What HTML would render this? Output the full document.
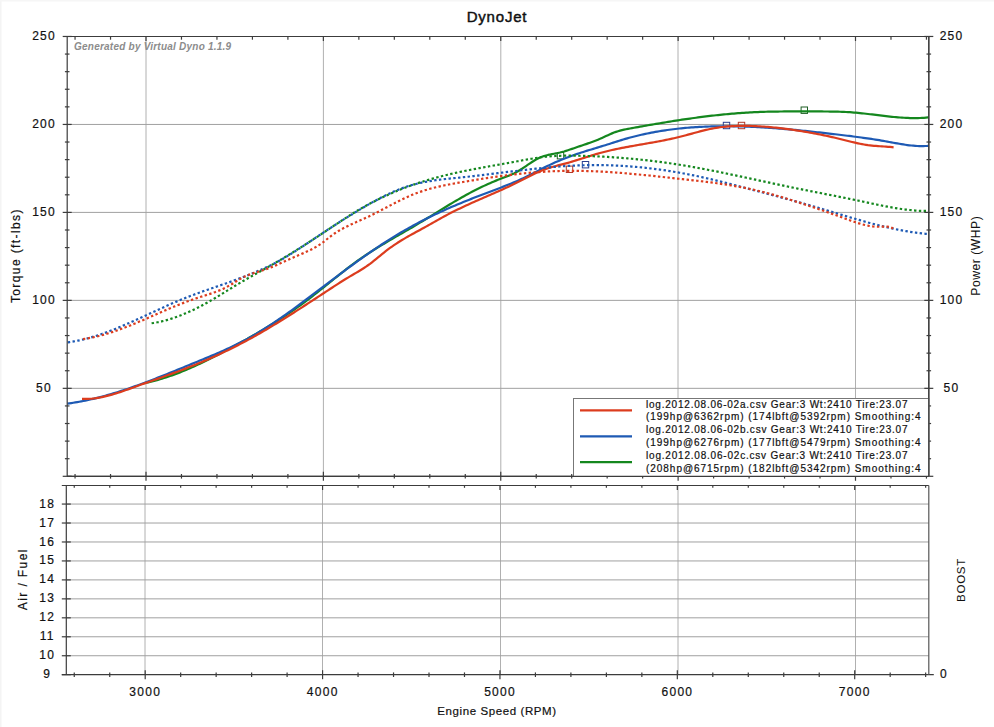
<!DOCTYPE html>
<html><head><meta charset="utf-8"><style>
html,body{margin:0;padding:0;background:#fff;width:994px;height:727px;overflow:hidden}
svg{display:block}
</style></head><body>
<svg width="994" height="727" viewBox="0 0 994 727">
<rect width="994" height="727" fill="#fff"/>
<rect x="0" y="0" width="1.5" height="727" fill="#f4f4f4"/>
<rect x="0" y="0" width="994" height="1.5" fill="#f6f6f6"/>
<line x1="146.00" y1="36.5" x2="146.00" y2="476.3" stroke="#b0b0b0" stroke-width="1"/>
<line x1="323.40" y1="36.5" x2="323.40" y2="476.3" stroke="#b0b0b0" stroke-width="1"/>
<line x1="500.80" y1="36.5" x2="500.80" y2="476.3" stroke="#b0b0b0" stroke-width="1"/>
<line x1="678.00" y1="36.5" x2="678.00" y2="476.3" stroke="#b0b0b0" stroke-width="1"/>
<line x1="855.50" y1="36.5" x2="855.50" y2="476.3" stroke="#b0b0b0" stroke-width="1"/>
<line x1="67.2" y1="388.34" x2="928.8" y2="388.34" stroke="#a0a0a0" stroke-width="1"/>
<line x1="67.2" y1="300.37" x2="928.8" y2="300.37" stroke="#a0a0a0" stroke-width="1"/>
<line x1="67.2" y1="212.40" x2="928.8" y2="212.40" stroke="#a0a0a0" stroke-width="1"/>
<line x1="67.2" y1="124.44" x2="928.8" y2="124.44" stroke="#a0a0a0" stroke-width="1"/>
<line x1="145.00" y1="485.5" x2="145.00" y2="674.7" stroke="#b0b0b0" stroke-width="1"/>
<line x1="322.50" y1="485.5" x2="322.50" y2="674.7" stroke="#b0b0b0" stroke-width="1"/>
<line x1="500.50" y1="485.5" x2="500.50" y2="674.7" stroke="#b0b0b0" stroke-width="1"/>
<line x1="678.00" y1="485.5" x2="678.00" y2="674.7" stroke="#b0b0b0" stroke-width="1"/>
<line x1="855.50" y1="485.5" x2="855.50" y2="674.7" stroke="#b0b0b0" stroke-width="1"/>
<line x1="66.3" y1="655.74" x2="928.8" y2="655.74" stroke="#a0a0a0" stroke-width="1"/>
<line x1="66.3" y1="636.78" x2="928.8" y2="636.78" stroke="#a0a0a0" stroke-width="1"/>
<line x1="66.3" y1="617.82" x2="928.8" y2="617.82" stroke="#a0a0a0" stroke-width="1"/>
<line x1="66.3" y1="598.86" x2="928.8" y2="598.86" stroke="#a0a0a0" stroke-width="1"/>
<line x1="66.3" y1="579.90" x2="928.8" y2="579.90" stroke="#a0a0a0" stroke-width="1"/>
<line x1="66.3" y1="560.94" x2="928.8" y2="560.94" stroke="#a0a0a0" stroke-width="1"/>
<line x1="66.3" y1="541.98" x2="928.8" y2="541.98" stroke="#a0a0a0" stroke-width="1"/>
<line x1="66.3" y1="523.02" x2="928.8" y2="523.02" stroke="#a0a0a0" stroke-width="1"/>
<line x1="66.3" y1="504.06" x2="928.8" y2="504.06" stroke="#a0a0a0" stroke-width="1"/>
<rect x="723.3" y="122.3" width="6.4" height="6.4" fill="none" stroke="#2a3f8f" stroke-width="1"/>
<rect x="738.3" y="122.3" width="6.4" height="6.4" fill="none" stroke="#b03a2a" stroke-width="1"/>
<rect x="801.1" y="107.0" width="6.4" height="6.4" fill="none" stroke="#1f5f25" stroke-width="1"/>
<rect x="557.3" y="152.5" width="6.4" height="6.4" fill="none" stroke="#1f5f25" stroke-width="1"/>
<rect x="582.3" y="161.5" width="6.4" height="6.4" fill="none" stroke="#2a3f8f" stroke-width="1"/>
<rect x="566.3" y="166.1" width="6.4" height="6.4" fill="none" stroke="#b03a2a" stroke-width="1"/>
<g fill="none" stroke-linejoin="round">
<path d="M146.00,382.73 L148.00,382.31 L150.00,381.86 L152.00,381.39 L154.00,380.89 L156.00,380.37 L158.00,379.82 L160.00,379.25 L162.00,378.66 L164.00,378.04 L166.00,377.41 L168.00,376.75 L170.00,376.06 L172.00,375.36 L174.00,374.64 L176.00,373.90 L178.00,373.14 L180.00,372.36 L182.00,371.57 L184.00,370.75 L186.00,369.92 L188.00,369.07 L190.00,368.21 L192.00,367.33 L194.00,366.44 L196.00,365.53 L198.00,364.60 L200.00,363.67 L202.00,362.72 L204.00,361.76 L206.00,360.79 L208.00,359.80 L210.00,358.81 L212.00,357.80 L214.00,356.79 L216.00,355.76 L218.00,354.73 L220.00,353.69 L222.00,352.64 L224.00,351.59 L226.00,350.52 L228.00,349.45 L230.00,348.38 L232.00,347.30 L234.00,346.22 L236.00,345.13 L238.00,344.03 L240.00,342.93 L242.00,341.83 L244.00,340.71 L246.00,339.59 L248.00,338.47 L250.00,337.33 L252.00,336.19 L254.00,335.04 L256.00,333.88 L258.00,332.72 L260.00,331.54 L262.00,330.35 L264.00,329.16 L266.00,327.95 L268.00,326.74 L270.00,325.51 L272.00,324.27 L274.00,323.02 L276.00,321.75 L278.00,320.48 L280.00,319.19 L282.00,317.89 L284.00,316.57 L286.00,315.25 L288.00,313.90 L290.00,312.55 L292.00,311.17 L294.00,309.79 L296.00,308.38 L298.00,306.96 L300.00,305.53 L302.00,304.07 L304.00,302.61 L306.00,301.12 L308.00,299.61 L310.00,298.09 L312.00,296.55 L314.00,295.00 L316.00,293.43 L318.00,291.85 L320.00,290.26 L322.00,288.66 L324.00,287.06 L326.00,285.45 L328.00,283.84 L330.00,282.22 L332.00,280.61 L334.00,279.00 L336.00,277.39 L338.00,275.79 L340.00,274.20 L342.00,272.62 L344.00,271.04 L346.00,269.48 L348.00,267.94 L350.00,266.41 L352.00,264.90 L354.00,263.41 L356.00,261.95 L358.00,260.50 L360.00,259.09 L362.00,257.69 L364.00,256.33 L366.00,254.98 L368.00,253.66 L370.00,252.35 L372.00,251.07 L374.00,249.80 L376.00,248.55 L378.00,247.31 L380.00,246.09 L382.00,244.88 L384.00,243.69 L386.00,242.50 L388.00,241.32 L390.00,240.15 L392.00,238.99 L394.00,237.83 L396.00,236.67 L398.00,235.52 L400.00,234.37 L402.00,233.22 L404.00,232.07 L406.00,230.92 L408.00,229.76 L410.00,228.60 L412.00,227.43 L414.00,226.26 L416.00,225.07 L418.00,223.88 L420.00,222.68 L422.00,221.47 L424.00,220.25 L426.00,219.02 L428.00,217.80 L430.00,216.57 L432.00,215.33 L434.00,214.10 L436.00,212.86 L438.00,211.63 L440.00,210.40 L442.00,209.17 L444.00,207.94 L446.00,206.72 L448.00,205.51 L450.00,204.30 L452.00,203.11 L454.00,201.92 L456.00,200.75 L458.00,199.58 L460.00,198.43 L462.00,197.29 L464.00,196.17 L466.00,195.06 L468.00,193.97 L470.00,192.90 L472.00,191.84 L474.00,190.80 L476.00,189.78 L478.00,188.77 L480.00,187.78 L482.00,186.82 L484.00,185.87 L486.00,184.94 L488.00,184.03 L490.00,183.15 L492.00,182.28 L494.00,181.44 L496.00,180.62 L498.00,179.83 L500.00,179.05 L502.00,178.30 L504.00,177.56 L506.00,176.82 L508.00,176.04 L510.00,175.23 L512.00,174.35 L514.00,173.39 L516.00,172.35 L518.00,171.24 L520.00,170.04 L522.00,168.77 L524.00,167.43 L526.00,166.07 L528.00,164.69 L530.00,163.32 L532.00,161.99 L534.00,160.72 L536.00,159.55 L538.00,158.48 L540.00,157.55 L542.00,156.74 L544.00,156.04 L546.00,155.45 L548.00,154.95 L550.00,154.52 L552.00,154.12 L554.00,153.74 L556.00,153.36 L558.00,152.96 L560.00,152.50 L562.00,151.99 L564.00,151.44 L566.00,150.84 L568.00,150.21 L570.00,149.56 L572.00,148.88 L574.00,148.20 L576.00,147.50 L578.00,146.80 L580.00,146.11 L582.00,145.44 L584.00,144.76 L586.00,144.09 L588.00,143.41 L590.00,142.72 L592.00,142.01 L594.00,141.27 L596.00,140.51 L598.00,139.70 L600.00,138.86 L602.00,137.96 L604.00,137.04 L606.00,136.10 L608.00,135.16 L610.00,134.25 L612.00,133.38 L614.00,132.58 L616.00,131.85 L618.00,131.21 L620.00,130.64 L622.00,130.14 L624.00,129.69 L626.00,129.28 L628.00,128.89 L630.00,128.52 L632.00,128.15 L634.00,127.79 L636.00,127.42 L638.00,127.06 L640.00,126.70 L642.00,126.34 L644.00,125.99 L646.00,125.63 L648.00,125.28 L650.00,124.93 L652.00,124.58 L654.00,124.24 L656.00,123.89 L658.00,123.55 L660.00,123.22 L662.00,122.88 L664.00,122.55 L666.00,122.22 L668.00,121.89 L670.00,121.57 L672.00,121.25 L674.00,120.94 L676.00,120.63 L678.00,120.32 L680.00,120.01 L682.00,119.71 L684.00,119.41 L686.00,119.12 L688.00,118.83 L690.00,118.55 L692.00,118.26 L694.00,117.99 L696.00,117.72 L698.00,117.45 L700.00,117.19 L702.00,116.93 L704.00,116.68 L706.00,116.43 L708.00,116.19 L710.00,115.95 L712.00,115.71 L714.00,115.49 L716.00,115.27 L718.00,115.05 L720.00,114.84 L722.00,114.63 L724.00,114.44 L726.00,114.24 L728.00,114.06 L730.00,113.87 L732.00,113.70 L734.00,113.53 L736.00,113.37 L738.00,113.21 L740.00,113.07 L742.00,112.92 L744.00,112.79 L746.00,112.66 L748.00,112.54 L750.00,112.42 L752.00,112.32 L754.00,112.22 L756.00,112.13 L758.00,112.04 L760.00,111.96 L762.00,111.89 L764.00,111.83 L766.00,111.77 L768.00,111.71 L770.00,111.67 L772.00,111.62 L774.00,111.59 L776.00,111.55 L778.00,111.53 L780.00,111.50 L782.00,111.48 L784.00,111.46 L786.00,111.45 L788.00,111.44 L790.00,111.43 L792.00,111.42 L794.00,111.42 L796.00,111.42 L798.00,111.41 L800.00,111.41 L802.00,111.41 L804.00,111.42 L806.00,111.42 L808.00,111.42 L810.00,111.42 L812.00,111.43 L814.00,111.43 L816.00,111.44 L818.00,111.44 L820.00,111.45 L822.00,111.47 L824.00,111.48 L826.00,111.50 L828.00,111.52 L830.00,111.54 L832.00,111.57 L834.00,111.60 L836.00,111.64 L838.00,111.68 L840.00,111.74 L842.00,111.80 L844.00,111.88 L846.00,111.98 L848.00,112.09 L850.00,112.22 L852.00,112.37 L854.00,112.53 L856.00,112.70 L858.00,112.89 L860.00,113.09 L862.00,113.30 L864.00,113.52 L866.00,113.75 L868.00,113.98 L870.00,114.22 L872.00,114.46 L874.00,114.70 L876.00,114.95 L878.00,115.19 L880.00,115.44 L882.00,115.68 L884.00,115.91 L886.00,116.14 L888.00,116.37 L890.00,116.59 L892.00,116.79 L894.00,116.99 L896.00,117.18 L898.00,117.35 L900.00,117.50 L902.00,117.65 L904.00,117.77 L906.00,117.88 L908.00,117.97 L910.00,118.03 L912.00,118.08 L914.00,118.10 L916.00,118.09 L918.00,118.06 L920.00,118.00 L922.00,117.92 L924.00,117.80 L926.00,117.65 L928.00,117.47 L928.80,117.39" stroke="#14871e" stroke-width="2.2" stroke-linecap="butt"/>
<path d="M67.30,403.61 L69.30,403.35 L71.30,403.06 L73.30,402.76 L75.30,402.44 L77.30,402.11 L79.30,401.75 L81.30,401.38 L83.30,400.99 L85.30,400.59 L87.30,400.17 L89.30,399.74 L91.30,399.29 L93.30,398.82 L95.30,398.34 L97.30,397.85 L99.30,397.34 L101.30,396.82 L103.30,396.28 L105.30,395.73 L107.30,395.17 L109.30,394.60 L111.30,394.01 L113.30,393.42 L115.30,392.81 L117.30,392.19 L119.30,391.56 L121.30,390.91 L123.30,390.26 L125.30,389.60 L127.30,388.93 L129.30,388.24 L131.30,387.55 L133.30,386.85 L135.30,386.15 L137.30,385.43 L139.30,384.71 L141.30,383.97 L143.30,383.23 L145.30,382.49 L147.30,381.74 L149.30,380.98 L151.30,380.21 L153.30,379.44 L155.30,378.67 L157.30,377.88 L159.30,377.10 L161.30,376.31 L163.30,375.51 L165.30,374.72 L167.30,373.91 L169.30,373.11 L171.30,372.30 L173.30,371.49 L175.30,370.68 L177.30,369.86 L179.30,369.04 L181.30,368.23 L183.30,367.41 L185.30,366.59 L187.30,365.77 L189.30,364.95 L191.30,364.12 L193.30,363.30 L195.30,362.48 L197.30,361.67 L199.30,360.85 L201.30,360.02 L203.30,359.20 L205.30,358.37 L207.30,357.54 L209.30,356.71 L211.30,355.87 L213.30,355.02 L215.30,354.17 L217.30,353.31 L219.30,352.44 L221.30,351.56 L223.30,350.67 L225.30,349.76 L227.30,348.85 L229.30,347.92 L231.30,346.99 L233.30,346.03 L235.30,345.06 L237.30,344.08 L239.30,343.07 L241.30,342.05 L243.30,341.02 L245.30,339.96 L247.30,338.88 L249.30,337.78 L251.30,336.66 L253.30,335.52 L255.30,334.36 L257.30,333.17 L259.30,331.97 L261.30,330.75 L263.30,329.51 L265.30,328.25 L267.30,326.97 L269.30,325.68 L271.30,324.37 L273.30,323.05 L275.30,321.71 L277.30,320.35 L279.30,318.98 L281.30,317.60 L283.30,316.21 L285.30,314.81 L287.30,313.39 L289.30,311.96 L291.30,310.53 L293.30,309.08 L295.30,307.63 L297.30,306.16 L299.30,304.69 L301.30,303.21 L303.30,301.73 L305.30,300.24 L307.30,298.75 L309.30,297.25 L311.30,295.74 L313.30,294.24 L315.30,292.73 L317.30,291.21 L319.30,289.70 L321.30,288.19 L323.30,286.67 L325.30,285.16 L327.30,283.65 L329.30,282.14 L331.30,280.63 L333.30,279.12 L335.30,277.62 L337.30,276.12 L339.30,274.62 L341.30,273.13 L343.30,271.64 L345.30,270.16 L347.30,268.68 L349.30,267.21 L351.30,265.74 L353.30,264.29 L355.30,262.83 L357.30,261.39 L359.30,259.95 L361.30,258.53 L363.30,257.11 L365.30,255.70 L367.30,254.29 L369.30,252.90 L371.30,251.52 L373.30,250.15 L375.30,248.79 L377.30,247.44 L379.30,246.11 L381.30,244.78 L383.30,243.47 L385.30,242.17 L387.30,240.89 L389.30,239.61 L391.30,238.36 L393.30,237.11 L395.30,235.88 L397.30,234.67 L399.30,233.47 L401.30,232.29 L403.30,231.12 L405.30,229.97 L407.30,228.84 L409.30,227.71 L411.30,226.60 L413.30,225.51 L415.30,224.43 L417.30,223.36 L419.30,222.31 L421.30,221.27 L423.30,220.24 L425.30,219.23 L427.30,218.23 L429.30,217.24 L431.30,216.26 L433.30,215.29 L435.30,214.34 L437.30,213.40 L439.30,212.46 L441.30,211.54 L443.30,210.63 L445.30,209.74 L447.30,208.85 L449.30,207.97 L451.30,207.10 L453.30,206.24 L455.30,205.39 L457.30,204.55 L459.30,203.72 L461.30,202.90 L463.30,202.08 L465.30,201.27 L467.30,200.47 L469.30,199.67 L471.30,198.89 L473.30,198.10 L475.30,197.32 L477.30,196.55 L479.30,195.78 L481.30,195.01 L483.30,194.25 L485.30,193.49 L487.30,192.73 L489.30,191.97 L491.30,191.21 L493.30,190.46 L495.30,189.70 L497.30,188.94 L499.30,188.18 L501.30,187.41 L503.30,186.63 L505.30,185.85 L507.30,185.05 L509.30,184.25 L511.30,183.43 L513.30,182.60 L515.30,181.76 L517.30,180.90 L519.30,180.02 L521.30,179.12 L523.30,178.21 L525.30,177.27 L527.30,176.31 L529.30,175.32 L531.30,174.31 L533.30,173.28 L535.30,172.25 L537.30,171.20 L539.30,170.16 L541.30,169.12 L543.30,168.09 L545.30,167.07 L547.30,166.08 L549.30,165.12 L551.30,164.18 L553.30,163.26 L555.30,162.37 L557.30,161.50 L559.30,160.65 L561.30,159.83 L563.30,159.02 L565.30,158.24 L567.30,157.47 L569.30,156.72 L571.30,155.99 L573.30,155.28 L575.30,154.58 L577.30,153.90 L579.30,153.23 L581.30,152.57 L583.30,151.93 L585.30,151.29 L587.30,150.67 L589.30,150.05 L591.30,149.43 L593.30,148.83 L595.30,148.22 L597.30,147.62 L599.30,147.01 L601.30,146.41 L603.30,145.80 L605.30,145.18 L607.30,144.56 L609.30,143.93 L611.30,143.29 L613.30,142.65 L615.30,142.00 L617.30,141.36 L619.30,140.73 L621.30,140.11 L623.30,139.50 L625.30,138.92 L627.30,138.35 L629.30,137.79 L631.30,137.25 L633.30,136.73 L635.30,136.22 L637.30,135.73 L639.30,135.25 L641.30,134.78 L643.30,134.33 L645.30,133.90 L647.30,133.48 L649.30,133.07 L651.30,132.68 L653.30,132.30 L655.30,131.94 L657.30,131.58 L659.30,131.24 L661.30,130.92 L663.30,130.60 L665.30,130.30 L667.30,130.01 L669.30,129.74 L671.30,129.47 L673.30,129.22 L675.30,128.98 L677.30,128.75 L679.30,128.53 L681.30,128.33 L683.30,128.13 L685.30,127.95 L687.30,127.77 L689.30,127.61 L691.30,127.45 L693.30,127.31 L695.30,127.17 L697.30,127.05 L699.30,126.93 L701.30,126.83 L703.30,126.73 L705.30,126.65 L707.30,126.57 L709.30,126.50 L711.30,126.43 L713.30,126.38 L715.30,126.34 L717.30,126.30 L719.30,126.27 L721.30,126.25 L723.30,126.24 L725.30,126.23 L727.30,126.23 L729.30,126.24 L731.30,126.26 L733.30,126.28 L735.30,126.31 L737.30,126.35 L739.30,126.40 L741.30,126.45 L743.30,126.51 L745.30,126.57 L747.30,126.64 L749.30,126.72 L751.30,126.80 L753.30,126.89 L755.30,126.99 L757.30,127.09 L759.30,127.19 L761.30,127.31 L763.30,127.42 L765.30,127.55 L767.30,127.67 L769.30,127.81 L771.30,127.95 L773.30,128.09 L775.30,128.24 L777.30,128.39 L779.30,128.55 L781.30,128.71 L783.30,128.87 L785.30,129.04 L787.30,129.22 L789.30,129.39 L791.30,129.57 L793.30,129.76 L795.30,129.95 L797.30,130.14 L799.30,130.33 L801.30,130.53 L803.30,130.73 L805.30,130.94 L807.30,131.15 L809.30,131.36 L811.30,131.57 L813.30,131.78 L815.30,132.00 L817.30,132.22 L819.30,132.44 L821.30,132.67 L823.30,132.89 L825.30,133.12 L827.30,133.35 L829.30,133.58 L831.30,133.81 L833.30,134.04 L835.30,134.28 L837.30,134.51 L839.30,134.75 L841.30,134.99 L843.30,135.23 L845.30,135.47 L847.30,135.72 L849.30,135.96 L851.30,136.21 L853.30,136.47 L855.30,136.72 L857.30,136.98 L859.30,137.25 L861.30,137.52 L863.30,137.80 L865.30,138.08 L867.30,138.36 L869.30,138.65 L871.30,138.95 L873.30,139.26 L875.30,139.57 L877.30,139.89 L879.30,140.21 L881.30,140.55 L883.30,140.89 L885.30,141.24 L887.30,141.60 L889.30,141.97 L891.30,142.34 L893.30,142.71 L895.30,143.08 L897.30,143.44 L899.30,143.79 L901.30,144.13 L903.30,144.46 L905.30,144.76 L907.30,145.05 L909.30,145.30 L911.30,145.53 L913.30,145.72 L915.30,145.88 L917.30,146.00 L919.30,146.07 L921.30,146.10 L923.30,146.08 L925.30,146.00 L927.30,145.87 L928.80,145.73" stroke="#1e5ab4" stroke-width="2.2" stroke-linecap="butt"/>
<path d="M82.00,398.84 L84.00,398.91 L86.00,398.92 L88.00,398.87 L90.00,398.77 L92.00,398.61 L94.00,398.40 L96.00,398.14 L98.00,397.83 L100.00,397.48 L102.00,397.09 L104.00,396.66 L106.00,396.19 L108.00,395.69 L110.00,395.16 L112.00,394.60 L114.00,394.01 L116.00,393.40 L118.00,392.77 L120.00,392.11 L122.00,391.44 L124.00,390.76 L126.00,390.06 L128.00,389.35 L130.00,388.64 L132.00,387.92 L134.00,387.20 L136.00,386.48 L138.00,385.76 L140.00,385.04 L142.00,384.33 L144.00,383.62 L146.00,382.91 L148.00,382.20 L150.00,381.49 L152.00,380.78 L154.00,380.08 L156.00,379.37 L158.00,378.66 L160.00,377.95 L162.00,377.23 L164.00,376.52 L166.00,375.80 L168.00,375.08 L170.00,374.36 L172.00,373.63 L174.00,372.89 L176.00,372.16 L178.00,371.41 L180.00,370.67 L182.00,369.91 L184.00,369.15 L186.00,368.38 L188.00,367.60 L190.00,366.82 L192.00,366.03 L194.00,365.23 L196.00,364.42 L198.00,363.60 L200.00,362.77 L202.00,361.93 L204.00,361.09 L206.00,360.23 L208.00,359.37 L210.00,358.49 L212.00,357.60 L214.00,356.71 L216.00,355.80 L218.00,354.89 L220.00,353.96 L222.00,353.03 L224.00,352.08 L226.00,351.12 L228.00,350.16 L230.00,349.18 L232.00,348.19 L234.00,347.19 L236.00,346.18 L238.00,345.16 L240.00,344.13 L242.00,343.08 L244.00,342.03 L246.00,340.96 L248.00,339.89 L250.00,338.80 L252.00,337.70 L254.00,336.59 L256.00,335.46 L258.00,334.33 L260.00,333.19 L262.00,332.03 L264.00,330.87 L266.00,329.70 L268.00,328.51 L270.00,327.32 L272.00,326.12 L274.00,324.92 L276.00,323.70 L278.00,322.48 L280.00,321.25 L282.00,320.01 L284.00,318.77 L286.00,317.52 L288.00,316.26 L290.00,315.00 L292.00,313.73 L294.00,312.46 L296.00,311.18 L298.00,309.90 L300.00,308.62 L302.00,307.33 L304.00,306.03 L306.00,304.74 L308.00,303.44 L310.00,302.13 L312.00,300.83 L314.00,299.52 L316.00,298.21 L318.00,296.91 L320.00,295.59 L322.00,294.28 L324.00,292.97 L326.00,291.66 L328.00,290.35 L330.00,289.04 L332.00,287.72 L334.00,286.42 L336.00,285.12 L338.00,283.82 L340.00,282.54 L342.00,281.27 L344.00,280.02 L346.00,278.78 L348.00,277.57 L350.00,276.38 L352.00,275.20 L354.00,274.04 L356.00,272.87 L358.00,271.69 L360.00,270.49 L362.00,269.26 L364.00,267.98 L366.00,266.65 L368.00,265.25 L370.00,263.79 L372.00,262.26 L374.00,260.69 L376.00,259.08 L378.00,257.44 L380.00,255.80 L382.00,254.17 L384.00,252.56 L386.00,250.98 L388.00,249.44 L390.00,247.96 L392.00,246.53 L394.00,245.15 L396.00,243.81 L398.00,242.52 L400.00,241.26 L402.00,240.03 L404.00,238.84 L406.00,237.67 L408.00,236.52 L410.00,235.39 L412.00,234.28 L414.00,233.18 L416.00,232.09 L418.00,231.00 L420.00,229.91 L422.00,228.82 L424.00,227.73 L426.00,226.62 L428.00,225.51 L430.00,224.38 L432.00,223.25 L434.00,222.11 L436.00,220.98 L438.00,219.85 L440.00,218.73 L442.00,217.62 L444.00,216.52 L446.00,215.45 L448.00,214.39 L450.00,213.35 L452.00,212.33 L454.00,211.32 L456.00,210.33 L458.00,209.36 L460.00,208.40 L462.00,207.45 L464.00,206.52 L466.00,205.59 L468.00,204.67 L470.00,203.77 L472.00,202.87 L474.00,201.98 L476.00,201.09 L478.00,200.21 L480.00,199.33 L482.00,198.46 L484.00,197.58 L486.00,196.71 L488.00,195.84 L490.00,194.97 L492.00,194.09 L494.00,193.21 L496.00,192.33 L498.00,191.45 L500.00,190.55 L502.00,189.65 L504.00,188.74 L506.00,187.83 L508.00,186.90 L510.00,185.96 L512.00,185.01 L514.00,184.05 L516.00,183.08 L518.00,182.08 L520.00,181.08 L522.00,180.06 L524.00,179.05 L526.00,178.03 L528.00,177.01 L530.00,176.01 L532.00,175.02 L534.00,174.06 L536.00,173.11 L538.00,172.20 L540.00,171.32 L542.00,170.49 L544.00,169.69 L546.00,168.95 L548.00,168.26 L550.00,167.62 L552.00,167.03 L554.00,166.48 L556.00,165.94 L558.00,165.43 L560.00,164.93 L562.00,164.43 L564.00,163.92 L566.00,163.39 L568.00,162.83 L570.00,162.26 L572.00,161.66 L574.00,161.05 L576.00,160.42 L578.00,159.79 L580.00,159.15 L582.00,158.51 L584.00,157.87 L586.00,157.24 L588.00,156.61 L590.00,155.98 L592.00,155.37 L594.00,154.76 L596.00,154.17 L598.00,153.60 L600.00,153.04 L602.00,152.50 L604.00,151.98 L606.00,151.47 L608.00,150.98 L610.00,150.51 L612.00,150.05 L614.00,149.60 L616.00,149.17 L618.00,148.75 L620.00,148.34 L622.00,147.94 L624.00,147.55 L626.00,147.17 L628.00,146.80 L630.00,146.43 L632.00,146.07 L634.00,145.71 L636.00,145.36 L638.00,145.01 L640.00,144.66 L642.00,144.31 L644.00,143.97 L646.00,143.62 L648.00,143.27 L650.00,142.92 L652.00,142.57 L654.00,142.21 L656.00,141.85 L658.00,141.48 L660.00,141.10 L662.00,140.72 L664.00,140.32 L666.00,139.92 L668.00,139.51 L670.00,139.09 L672.00,138.65 L674.00,138.20 L676.00,137.74 L678.00,137.26 L680.00,136.77 L682.00,136.26 L684.00,135.74 L686.00,135.21 L688.00,134.66 L690.00,134.12 L692.00,133.57 L694.00,133.02 L696.00,132.48 L698.00,131.94 L700.00,131.41 L702.00,130.89 L704.00,130.39 L706.00,129.91 L708.00,129.45 L710.00,129.01 L712.00,128.60 L714.00,128.21 L716.00,127.86 L718.00,127.55 L720.00,127.27 L722.00,127.02 L724.00,126.80 L726.00,126.61 L728.00,126.45 L730.00,126.31 L732.00,126.19 L734.00,126.10 L736.00,126.02 L738.00,125.96 L740.00,125.92 L742.00,125.89 L744.00,125.88 L746.00,125.89 L748.00,125.91 L750.00,125.95 L752.00,126.01 L754.00,126.07 L756.00,126.16 L758.00,126.25 L760.00,126.36 L762.00,126.49 L764.00,126.62 L766.00,126.77 L768.00,126.93 L770.00,127.11 L772.00,127.29 L774.00,127.49 L776.00,127.69 L778.00,127.91 L780.00,128.14 L782.00,128.38 L784.00,128.62 L786.00,128.88 L788.00,129.15 L790.00,129.42 L792.00,129.70 L794.00,129.99 L796.00,130.29 L798.00,130.60 L800.00,130.91 L802.00,131.23 L804.00,131.56 L806.00,131.90 L808.00,132.25 L810.00,132.60 L812.00,132.97 L814.00,133.34 L816.00,133.72 L818.00,134.11 L820.00,134.51 L822.00,134.91 L824.00,135.33 L826.00,135.75 L828.00,136.18 L830.00,136.63 L832.00,137.08 L834.00,137.54 L836.00,138.00 L838.00,138.48 L840.00,138.97 L842.00,139.47 L844.00,139.97 L846.00,140.47 L848.00,140.97 L850.00,141.47 L852.00,141.96 L854.00,142.43 L856.00,142.90 L858.00,143.34 L860.00,143.76 L862.00,144.16 L864.00,144.52 L866.00,144.86 L868.00,145.16 L870.00,145.41 L872.00,145.63 L874.00,145.82 L876.00,145.97 L878.00,146.11 L880.00,146.24 L882.00,146.36 L884.00,146.48 L886.00,146.62 L888.00,146.78 L890.00,146.96 L892.00,147.18 L893.60,147.38" stroke="#dc3c1e" stroke-width="2.2" stroke-linecap="butt"/>
<path d="M151.60,323.28 L153.60,322.99 L155.60,322.66 L157.60,322.29 L159.60,321.88 L161.60,321.43 L163.60,320.95 L165.60,320.42 L167.60,319.86 L169.60,319.27 L171.60,318.64 L173.60,317.98 L175.60,317.29 L177.60,316.56 L179.60,315.80 L181.60,315.02 L183.60,314.20 L185.60,313.36 L187.60,312.48 L189.60,311.58 L191.60,310.66 L193.60,309.71 L195.60,308.73 L197.60,307.73 L199.60,306.71 L201.60,305.66 L203.60,304.59 L205.60,303.50 L207.60,302.40 L209.60,301.27 L211.60,300.12 L213.60,298.96 L215.60,297.78 L217.60,296.58 L219.60,295.37 L221.60,294.14 L223.60,292.91 L225.60,291.67 L227.60,290.43 L229.60,289.19 L231.60,287.96 L233.60,286.73 L235.60,285.51 L237.60,284.30 L239.60,283.10 L241.60,281.92 L243.60,280.75 L245.60,279.59 L247.60,278.45 L249.60,277.31 L251.60,276.18 L253.60,275.05 L255.60,273.93 L257.60,272.81 L259.60,271.69 L261.60,270.58 L263.60,269.46 L265.60,268.35 L267.60,267.23 L269.60,266.10 L271.60,264.97 L273.60,263.84 L275.60,262.69 L277.60,261.54 L279.60,260.37 L281.60,259.20 L283.60,258.01 L285.60,256.82 L287.60,255.61 L289.60,254.39 L291.60,253.17 L293.60,251.93 L295.60,250.69 L297.60,249.44 L299.60,248.18 L301.60,246.92 L303.60,245.64 L305.60,244.36 L307.60,243.08 L309.60,241.78 L311.60,240.48 L313.60,239.18 L315.60,237.87 L317.60,236.56 L319.60,235.24 L321.60,233.92 L323.60,232.60 L325.60,231.27 L327.60,229.94 L329.60,228.61 L331.60,227.28 L333.60,225.95 L335.60,224.62 L337.60,223.30 L339.60,221.98 L341.60,220.66 L343.60,219.36 L345.60,218.06 L347.60,216.77 L349.60,215.50 L351.60,214.24 L353.60,212.99 L355.60,211.77 L357.60,210.56 L359.60,209.38 L361.60,208.22 L363.60,207.07 L365.60,205.95 L367.60,204.85 L369.60,203.77 L371.60,202.71 L373.60,201.67 L375.60,200.65 L377.60,199.65 L379.60,198.66 L381.60,197.70 L383.60,196.75 L385.60,195.83 L387.60,194.92 L389.60,194.02 L391.60,193.15 L393.60,192.29 L395.60,191.45 L397.60,190.63 L399.60,189.82 L401.60,189.03 L403.60,188.25 L405.60,187.49 L407.60,186.75 L409.60,186.02 L411.60,185.30 L413.60,184.60 L415.60,183.92 L417.60,183.25 L419.60,182.59 L421.60,181.95 L423.60,181.32 L425.60,180.70 L427.60,180.10 L429.60,179.51 L431.60,178.93 L433.60,178.36 L435.60,177.81 L437.60,177.27 L439.60,176.74 L441.60,176.22 L443.60,175.71 L445.60,175.21 L447.60,174.72 L449.60,174.25 L451.60,173.78 L453.60,173.32 L455.60,172.87 L457.60,172.43 L459.60,172.00 L461.60,171.58 L463.60,171.17 L465.60,170.76 L467.60,170.36 L469.60,169.96 L471.60,169.57 L473.60,169.19 L475.60,168.81 L477.60,168.43 L479.60,168.06 L481.60,167.69 L483.60,167.33 L485.60,166.97 L487.60,166.61 L489.60,166.25 L491.60,165.90 L493.60,165.54 L495.60,165.19 L497.60,164.84 L499.60,164.48 L501.60,164.13 L503.60,163.77 L505.60,163.42 L507.60,163.06 L509.60,162.70 L511.60,162.34 L513.60,161.97 L515.60,161.60 L517.60,161.23 L519.60,160.86 L521.60,160.49 L523.60,160.12 L525.60,159.76 L527.60,159.41 L529.60,159.06 L531.60,158.72 L533.60,158.40 L535.60,158.08 L537.60,157.79 L539.60,157.50 L541.60,157.24 L543.60,156.99 L545.60,156.77 L547.60,156.57 L549.60,156.39 L551.60,156.23 L553.60,156.09 L555.60,155.98 L557.60,155.88 L559.60,155.80 L561.60,155.74 L563.60,155.69 L565.60,155.66 L567.60,155.64 L569.60,155.64 L571.60,155.65 L573.60,155.66 L575.60,155.69 L577.60,155.73 L579.60,155.77 L581.60,155.82 L583.60,155.87 L585.60,155.93 L587.60,156.00 L589.60,156.07 L591.60,156.14 L593.60,156.22 L595.60,156.31 L597.60,156.40 L599.60,156.50 L601.60,156.60 L603.60,156.71 L605.60,156.82 L607.60,156.94 L609.60,157.06 L611.60,157.19 L613.60,157.32 L615.60,157.46 L617.60,157.60 L619.60,157.75 L621.60,157.91 L623.60,158.07 L625.60,158.23 L627.60,158.40 L629.60,158.58 L631.60,158.76 L633.60,158.95 L635.60,159.14 L637.60,159.34 L639.60,159.54 L641.60,159.75 L643.60,159.97 L645.60,160.19 L647.60,160.41 L649.60,160.64 L651.60,160.88 L653.60,161.12 L655.60,161.37 L657.60,161.62 L659.60,161.88 L661.60,162.15 L663.60,162.42 L665.60,162.69 L667.60,162.98 L669.60,163.26 L671.60,163.56 L673.60,163.85 L675.60,164.16 L677.60,164.47 L679.60,164.78 L681.60,165.10 L683.60,165.43 L685.60,165.76 L687.60,166.10 L689.60,166.44 L691.60,166.79 L693.60,167.14 L695.60,167.50 L697.60,167.86 L699.60,168.23 L701.60,168.60 L703.60,168.97 L705.60,169.35 L707.60,169.74 L709.60,170.12 L711.60,170.51 L713.60,170.91 L715.60,171.30 L717.60,171.70 L719.60,172.10 L721.60,172.51 L723.60,172.92 L725.60,173.33 L727.60,173.74 L729.60,174.16 L731.60,174.57 L733.60,174.99 L735.60,175.41 L737.60,175.84 L739.60,176.26 L741.60,176.69 L743.60,177.11 L745.60,177.54 L747.60,177.97 L749.60,178.40 L751.60,178.83 L753.60,179.26 L755.60,179.69 L757.60,180.12 L759.60,180.55 L761.60,180.98 L763.60,181.41 L765.60,181.84 L767.60,182.27 L769.60,182.70 L771.60,183.13 L773.60,183.56 L775.60,183.98 L777.60,184.41 L779.60,184.83 L781.60,185.25 L783.60,185.67 L785.60,186.09 L787.60,186.50 L789.60,186.92 L791.60,187.33 L793.60,187.74 L795.60,188.15 L797.60,188.55 L799.60,188.95 L801.60,189.35 L803.60,189.75 L805.60,190.15 L807.60,190.54 L809.60,190.94 L811.60,191.33 L813.60,191.73 L815.60,192.12 L817.60,192.51 L819.60,192.90 L821.60,193.29 L823.60,193.68 L825.60,194.08 L827.60,194.47 L829.60,194.86 L831.60,195.25 L833.60,195.65 L835.60,196.04 L837.60,196.44 L839.60,196.84 L841.60,197.23 L843.60,197.64 L845.60,198.04 L847.60,198.44 L849.60,198.85 L851.60,199.26 L853.60,199.67 L855.60,200.08 L857.60,200.50 L859.60,200.92 L861.60,201.34 L863.60,201.77 L865.60,202.20 L867.60,202.62 L869.60,203.05 L871.60,203.47 L873.60,203.89 L875.60,204.31 L877.60,204.73 L879.60,205.14 L881.60,205.54 L883.60,205.93 L885.60,206.32 L887.60,206.70 L889.60,207.07 L891.60,207.42 L893.60,207.77 L895.60,208.10 L897.60,208.42 L899.60,208.73 L901.60,209.02 L903.60,209.29 L905.60,209.55 L907.60,209.78 L909.60,210.00 L911.60,210.20 L913.60,210.38 L915.60,210.53 L917.60,210.67 L919.60,210.78 L921.60,210.86 L923.60,210.92 L925.60,210.95 L927.60,210.96 L928.80,210.95" stroke="#14871e" stroke-width="2.2" stroke-dasharray="2.4 2.4"/>
<path d="M67.80,342.35 L69.80,342.08 L71.80,341.78 L73.80,341.44 L75.80,341.08 L77.80,340.69 L79.80,340.27 L81.80,339.82 L83.80,339.34 L85.80,338.84 L87.80,338.31 L89.80,337.76 L91.80,337.18 L93.80,336.58 L95.80,335.96 L97.80,335.31 L99.80,334.65 L101.80,333.96 L103.80,333.26 L105.80,332.53 L107.80,331.79 L109.80,331.03 L111.80,330.26 L113.80,329.47 L115.80,328.67 L117.80,327.85 L119.80,327.02 L121.80,326.18 L123.80,325.32 L125.80,324.46 L127.80,323.59 L129.80,322.71 L131.80,321.82 L133.80,320.92 L135.80,320.02 L137.80,319.11 L139.80,318.20 L141.80,317.28 L143.80,316.36 L145.80,315.43 L147.80,314.51 L149.80,313.59 L151.80,312.66 L153.80,311.74 L155.80,310.82 L157.80,309.90 L159.80,308.98 L161.80,308.07 L163.80,307.16 L165.80,306.26 L167.80,305.36 L169.80,304.48 L171.80,303.60 L173.80,302.73 L175.80,301.87 L177.80,301.02 L179.80,300.18 L181.80,299.35 L183.80,298.54 L185.80,297.74 L187.80,296.95 L189.80,296.18 L191.80,295.42 L193.80,294.67 L195.80,293.94 L197.80,293.21 L199.80,292.49 L201.80,291.77 L203.80,291.07 L205.80,290.36 L207.80,289.67 L209.80,288.97 L211.80,288.28 L213.80,287.59 L215.80,286.90 L217.80,286.21 L219.80,285.52 L221.80,284.83 L223.80,284.13 L225.80,283.43 L227.80,282.73 L229.80,282.01 L231.80,281.29 L233.80,280.57 L235.80,279.83 L237.80,279.09 L239.80,278.33 L241.80,277.57 L243.80,276.80 L245.80,276.01 L247.80,275.22 L249.80,274.42 L251.80,273.61 L253.80,272.78 L255.80,271.95 L257.80,271.11 L259.80,270.25 L261.80,269.38 L263.80,268.50 L265.80,267.61 L267.80,266.68 L269.80,265.73 L271.80,264.74 L273.80,263.73 L275.80,262.68 L277.80,261.60 L279.80,260.50 L281.80,259.37 L283.80,258.21 L285.80,257.03 L287.80,255.83 L289.80,254.62 L291.80,253.38 L293.80,252.13 L295.80,250.86 L297.80,249.57 L299.80,248.28 L301.80,246.97 L303.80,245.66 L305.80,244.33 L307.80,243.00 L309.80,241.67 L311.80,240.33 L313.80,238.99 L315.80,237.65 L317.80,236.31 L319.80,234.97 L321.80,233.63 L323.80,232.31 L325.80,230.98 L327.80,229.67 L329.80,228.36 L331.80,227.06 L333.80,225.77 L335.80,224.48 L337.80,223.20 L339.80,221.93 L341.80,220.66 L343.80,219.40 L345.80,218.15 L347.80,216.91 L349.80,215.67 L351.80,214.44 L353.80,213.22 L355.80,212.01 L357.80,210.80 L359.80,209.60 L361.80,208.42 L363.80,207.24 L365.80,206.07 L367.80,204.92 L369.80,203.78 L371.80,202.65 L373.80,201.55 L375.80,200.46 L377.80,199.38 L379.80,198.33 L381.80,197.30 L383.80,196.29 L385.80,195.30 L387.80,194.34 L389.80,193.40 L391.80,192.49 L393.80,191.60 L395.80,190.75 L397.80,189.92 L399.80,189.12 L401.80,188.36 L403.80,187.63 L405.80,186.93 L407.80,186.27 L409.80,185.65 L411.80,185.06 L413.80,184.50 L415.80,183.98 L417.80,183.49 L419.80,183.03 L421.80,182.59 L423.80,182.18 L425.80,181.80 L427.80,181.44 L429.80,181.10 L431.80,180.79 L433.80,180.49 L435.80,180.20 L437.80,179.94 L439.80,179.68 L441.80,179.44 L443.80,179.21 L445.80,178.99 L447.80,178.78 L449.80,178.57 L451.80,178.37 L453.80,178.16 L455.80,177.96 L457.80,177.76 L459.80,177.56 L461.80,177.36 L463.80,177.15 L465.80,176.93 L467.80,176.72 L469.80,176.50 L471.80,176.27 L473.80,176.05 L475.80,175.82 L477.80,175.58 L479.80,175.35 L481.80,175.11 L483.80,174.87 L485.80,174.63 L487.80,174.39 L489.80,174.15 L491.80,173.90 L493.80,173.66 L495.80,173.41 L497.80,173.17 L499.80,172.92 L501.80,172.68 L503.80,172.43 L505.80,172.18 L507.80,171.94 L509.80,171.69 L511.80,171.45 L513.80,171.21 L515.80,170.97 L517.80,170.73 L519.80,170.49 L521.80,170.26 L523.80,170.03 L525.80,169.80 L527.80,169.57 L529.80,169.35 L531.80,169.13 L533.80,168.91 L535.80,168.70 L537.80,168.49 L539.80,168.28 L541.80,168.08 L543.80,167.89 L545.80,167.70 L547.80,167.51 L549.80,167.33 L551.80,167.15 L553.80,166.98 L555.80,166.82 L557.80,166.66 L559.80,166.51 L561.80,166.36 L563.80,166.22 L565.80,166.09 L567.80,165.97 L569.80,165.85 L571.80,165.74 L573.80,165.64 L575.80,165.54 L577.80,165.46 L579.80,165.38 L581.80,165.31 L583.80,165.25 L585.80,165.20 L587.80,165.16 L589.80,165.13 L591.80,165.10 L593.80,165.09 L595.80,165.09 L597.80,165.09 L599.80,165.10 L601.80,165.13 L603.80,165.16 L605.80,165.20 L607.80,165.25 L609.80,165.31 L611.80,165.37 L613.80,165.45 L615.80,165.54 L617.80,165.63 L619.80,165.73 L621.80,165.84 L623.80,165.96 L625.80,166.09 L627.80,166.23 L629.80,166.38 L631.80,166.53 L633.80,166.69 L635.80,166.87 L637.80,167.05 L639.80,167.24 L641.80,167.43 L643.80,167.64 L645.80,167.85 L647.80,168.08 L649.80,168.31 L651.80,168.55 L653.80,168.79 L655.80,169.05 L657.80,169.31 L659.80,169.59 L661.80,169.87 L663.80,170.16 L665.80,170.45 L667.80,170.76 L669.80,171.07 L671.80,171.39 L673.80,171.72 L675.80,172.06 L677.80,172.40 L679.80,172.75 L681.80,173.11 L683.80,173.48 L685.80,173.86 L687.80,174.24 L689.80,174.63 L691.80,175.03 L693.80,175.44 L695.80,175.86 L697.80,176.28 L699.80,176.71 L701.80,177.15 L703.80,177.59 L705.80,178.04 L707.80,178.50 L709.80,178.96 L711.80,179.43 L713.80,179.90 L715.80,180.38 L717.80,180.87 L719.80,181.36 L721.80,181.85 L723.80,182.35 L725.80,182.86 L727.80,183.36 L729.80,183.87 L731.80,184.38 L733.80,184.90 L735.80,185.42 L737.80,185.94 L739.80,186.46 L741.80,186.98 L743.80,187.51 L745.80,188.04 L747.80,188.57 L749.80,189.09 L751.80,189.62 L753.80,190.15 L755.80,190.68 L757.80,191.21 L759.80,191.74 L761.80,192.27 L763.80,192.80 L765.80,193.32 L767.80,193.85 L769.80,194.38 L771.80,194.92 L773.80,195.45 L775.80,195.98 L777.80,196.52 L779.80,197.05 L781.80,197.59 L783.80,198.13 L785.80,198.67 L787.80,199.21 L789.80,199.76 L791.80,200.30 L793.80,200.85 L795.80,201.40 L797.80,201.96 L799.80,202.51 L801.80,203.08 L803.80,203.64 L805.80,204.21 L807.80,204.77 L809.80,205.35 L811.80,205.93 L813.80,206.51 L815.80,207.09 L817.80,207.68 L819.80,208.27 L821.80,208.87 L823.80,209.46 L825.80,210.06 L827.80,210.66 L829.80,211.26 L831.80,211.87 L833.80,212.47 L835.80,213.07 L837.80,213.67 L839.80,214.28 L841.80,214.88 L843.80,215.48 L845.80,216.07 L847.80,216.67 L849.80,217.26 L851.80,217.85 L853.80,218.43 L855.80,219.02 L857.80,219.59 L859.80,220.17 L861.80,220.73 L863.80,221.29 L865.80,221.85 L867.80,222.40 L869.80,222.94 L871.80,223.48 L873.80,224.01 L875.80,224.53 L877.80,225.04 L879.80,225.54 L881.80,226.03 L883.80,226.52 L885.80,226.99 L887.80,227.46 L889.80,227.91 L891.80,228.35 L893.80,228.78 L895.80,229.20 L897.80,229.61 L899.80,230.00 L901.80,230.38 L903.80,230.75 L905.80,231.10 L907.80,231.44 L909.80,231.77 L911.80,232.07 L913.80,232.37 L915.80,232.65 L917.80,232.91 L919.80,233.15 L921.80,233.38 L923.80,233.59 L925.80,233.78 L927.80,233.96 L928.80,234.04" stroke="#1e5ab4" stroke-width="2.2" stroke-dasharray="2.4 2.4"/>
<path d="M82.90,339.05 L84.90,338.78 L86.90,338.48 L88.90,338.14 L90.90,337.78 L92.90,337.38 L94.90,336.95 L96.90,336.49 L98.90,336.00 L100.90,335.49 L102.90,334.94 L104.90,334.38 L106.90,333.79 L108.90,333.17 L110.90,332.54 L112.90,331.88 L114.90,331.20 L116.90,330.51 L118.90,329.79 L120.90,329.06 L122.90,328.31 L124.90,327.55 L126.90,326.77 L128.90,325.97 L130.90,325.17 L132.90,324.35 L134.90,323.53 L136.90,322.69 L138.90,321.85 L140.90,320.99 L142.90,320.14 L144.90,319.27 L146.90,318.40 L148.90,317.53 L150.90,316.66 L152.90,315.78 L154.90,314.90 L156.90,314.03 L158.90,313.15 L160.90,312.28 L162.90,311.41 L164.90,310.54 L166.90,309.68 L168.90,308.83 L170.90,307.98 L172.90,307.15 L174.90,306.32 L176.90,305.50 L178.90,304.69 L180.90,303.90 L182.90,303.11 L184.90,302.35 L186.90,301.59 L188.90,300.86 L190.90,300.14 L192.90,299.44 L194.90,298.75 L196.90,298.09 L198.90,297.45 L200.90,296.81 L202.90,296.18 L204.90,295.54 L206.90,294.91 L208.90,294.25 L210.90,293.59 L212.90,292.89 L214.90,292.17 L216.90,291.42 L218.90,290.62 L220.90,289.78 L222.90,288.89 L224.90,287.94 L226.90,286.92 L228.90,285.84 L230.90,284.69 L232.90,283.46 L234.90,282.17 L236.90,280.87 L238.90,279.62 L240.90,278.46 L242.90,277.40 L244.90,276.45 L246.90,275.58 L248.90,274.79 L250.90,274.06 L252.90,273.37 L254.90,272.72 L256.90,272.10 L258.90,271.48 L260.90,270.86 L262.90,270.23 L264.90,269.57 L266.90,268.87 L268.90,268.15 L270.90,267.38 L272.90,266.58 L274.90,265.74 L276.90,264.88 L278.90,264.00 L280.90,263.11 L282.90,262.20 L284.90,261.29 L286.90,260.37 L288.90,259.45 L290.90,258.55 L292.90,257.65 L294.90,256.77 L296.90,255.91 L298.90,255.06 L300.90,254.22 L302.90,253.37 L304.90,252.50 L306.90,251.61 L308.90,250.68 L310.90,249.70 L312.90,248.68 L314.90,247.59 L316.90,246.42 L318.90,245.18 L320.90,243.84 L322.90,242.40 L324.90,240.86 L326.90,239.24 L328.90,237.62 L330.90,236.06 L332.90,234.59 L334.90,233.22 L336.90,231.92 L338.90,230.70 L340.90,229.55 L342.90,228.45 L344.90,227.41 L346.90,226.41 L348.90,225.45 L350.90,224.51 L352.90,223.61 L354.90,222.71 L356.90,221.83 L358.90,220.95 L360.90,220.08 L362.90,219.19 L364.90,218.29 L366.90,217.36 L368.90,216.42 L370.90,215.45 L372.90,214.46 L374.90,213.45 L376.90,212.43 L378.90,211.40 L380.90,210.36 L382.90,209.31 L384.90,208.26 L386.90,207.21 L388.90,206.16 L390.90,205.12 L392.90,204.07 L394.90,203.04 L396.90,202.02 L398.90,201.02 L400.90,200.03 L402.90,199.06 L404.90,198.11 L406.90,197.19 L408.90,196.29 L410.90,195.42 L412.90,194.59 L414.90,193.78 L416.90,193.02 L418.90,192.29 L420.90,191.59 L422.90,190.93 L424.90,190.29 L426.90,189.69 L428.90,189.11 L430.90,188.56 L432.90,188.03 L434.90,187.52 L436.90,187.04 L438.90,186.57 L440.90,186.13 L442.90,185.70 L444.90,185.28 L446.90,184.88 L448.90,184.49 L450.90,184.11 L452.90,183.75 L454.90,183.38 L456.90,183.03 L458.90,182.68 L460.90,182.33 L462.90,181.99 L464.90,181.64 L466.90,181.30 L468.90,180.97 L470.90,180.63 L472.90,180.30 L474.90,179.97 L476.90,179.65 L478.90,179.33 L480.90,179.01 L482.90,178.70 L484.90,178.39 L486.90,178.08 L488.90,177.78 L490.90,177.48 L492.90,177.19 L494.90,176.90 L496.90,176.62 L498.90,176.34 L500.90,176.07 L502.90,175.80 L504.90,175.54 L506.90,175.28 L508.90,175.03 L510.90,174.79 L512.90,174.55 L514.90,174.32 L516.90,174.09 L518.90,173.87 L520.90,173.66 L522.90,173.45 L524.90,173.26 L526.90,173.06 L528.90,172.88 L530.90,172.70 L532.90,172.53 L534.90,172.37 L536.90,172.22 L538.90,172.07 L540.90,171.93 L542.90,171.80 L544.90,171.68 L546.90,171.56 L548.90,171.45 L550.90,171.35 L552.90,171.26 L554.90,171.18 L556.90,171.11 L558.90,171.04 L560.90,170.98 L562.90,170.94 L564.90,170.90 L566.90,170.87 L568.90,170.84 L570.90,170.83 L572.90,170.83 L574.90,170.83 L576.90,170.84 L578.90,170.87 L580.90,170.89 L582.90,170.93 L584.90,170.98 L586.90,171.03 L588.90,171.09 L590.90,171.16 L592.90,171.23 L594.90,171.31 L596.90,171.40 L598.90,171.50 L600.90,171.60 L602.90,171.71 L604.90,171.82 L606.90,171.94 L608.90,172.07 L610.90,172.20 L612.90,172.33 L614.90,172.48 L616.90,172.62 L618.90,172.77 L620.90,172.93 L622.90,173.09 L624.90,173.26 L626.90,173.43 L628.90,173.60 L630.90,173.78 L632.90,173.96 L634.90,174.14 L636.90,174.33 L638.90,174.52 L640.90,174.72 L642.90,174.91 L644.90,175.11 L646.90,175.31 L648.90,175.52 L650.90,175.73 L652.90,175.93 L654.90,176.14 L656.90,176.36 L658.90,176.57 L660.90,176.79 L662.90,177.00 L664.90,177.22 L666.90,177.44 L668.90,177.65 L670.90,177.87 L672.90,178.09 L674.90,178.31 L676.90,178.53 L678.90,178.75 L680.90,178.97 L682.90,179.19 L684.90,179.41 L686.90,179.63 L688.90,179.85 L690.90,180.07 L692.90,180.30 L694.90,180.52 L696.90,180.75 L698.90,180.99 L700.90,181.22 L702.90,181.46 L704.90,181.71 L706.90,181.95 L708.90,182.21 L710.90,182.46 L712.90,182.73 L714.90,182.99 L716.90,183.27 L718.90,183.55 L720.90,183.84 L722.90,184.13 L724.90,184.43 L726.90,184.74 L728.90,185.06 L730.90,185.38 L732.90,185.72 L734.90,186.06 L736.90,186.41 L738.90,186.77 L740.90,187.14 L742.90,187.53 L744.90,187.92 L746.90,188.32 L748.90,188.74 L750.90,189.16 L752.90,189.60 L754.90,190.05 L756.90,190.52 L758.90,190.99 L760.90,191.48 L762.90,191.98 L764.90,192.49 L766.90,193.01 L768.90,193.54 L770.90,194.09 L772.90,194.64 L774.90,195.20 L776.90,195.77 L778.90,196.35 L780.90,196.93 L782.90,197.53 L784.90,198.13 L786.90,198.74 L788.90,199.35 L790.90,199.98 L792.90,200.60 L794.90,201.24 L796.90,201.88 L798.90,202.52 L800.90,203.17 L802.90,203.82 L804.90,204.48 L806.90,205.14 L808.90,205.80 L810.90,206.47 L812.90,207.15 L814.90,207.82 L816.90,208.51 L818.90,209.19 L820.90,209.88 L822.90,210.58 L824.90,211.28 L826.90,211.98 L828.90,212.69 L830.90,213.40 L832.90,214.11 L834.90,214.83 L836.90,215.56 L838.90,216.29 L840.90,217.02 L842.90,217.76 L844.90,218.50 L846.90,219.24 L848.90,219.97 L850.90,220.69 L852.90,221.39 L854.90,222.08 L856.90,222.73 L858.90,223.36 L860.90,223.95 L862.90,224.49 L864.90,224.99 L866.90,225.44 L868.90,225.83 L870.90,226.16 L872.90,226.43 L874.90,226.62 L876.90,226.74 L878.90,226.77 L880.90,226.72 L882.90,226.62 L884.90,226.55 L886.90,226.60 L888.90,226.85 L890.90,227.38 L892.90,228.29 L893.20,228.46" stroke="#dc3c1e" stroke-width="2.2" stroke-dasharray="2.4 2.4"/>
</g>
<g stroke="#3c3c3c" stroke-width="1.2" fill="none">
<line x1="67.2" y1="36.5" x2="928.8" y2="36.5"/>
<line x1="67.2" y1="476.3" x2="928.8" y2="476.3"/>
<line x1="67.2" y1="36.5" x2="67.2" y2="476.3"/>
<line x1="928.8" y1="36.5" x2="928.8" y2="476.3"/>
<line x1="62.7" y1="476.30" x2="71.7" y2="476.30"/>
<line x1="924.3" y1="476.30" x2="933.3" y2="476.30"/>
<line x1="64.9" y1="458.71" x2="69.5" y2="458.71"/>
<line x1="926.5" y1="458.71" x2="931.0999999999999" y2="458.71"/>
<line x1="64.9" y1="441.11" x2="69.5" y2="441.11"/>
<line x1="926.5" y1="441.11" x2="931.0999999999999" y2="441.11"/>
<line x1="64.9" y1="423.52" x2="69.5" y2="423.52"/>
<line x1="926.5" y1="423.52" x2="931.0999999999999" y2="423.52"/>
<line x1="64.9" y1="405.93" x2="69.5" y2="405.93"/>
<line x1="926.5" y1="405.93" x2="931.0999999999999" y2="405.93"/>
<line x1="62.7" y1="388.34" x2="71.7" y2="388.34"/>
<line x1="924.3" y1="388.34" x2="933.3" y2="388.34"/>
<line x1="64.9" y1="370.74" x2="69.5" y2="370.74"/>
<line x1="926.5" y1="370.74" x2="931.0999999999999" y2="370.74"/>
<line x1="64.9" y1="353.15" x2="69.5" y2="353.15"/>
<line x1="926.5" y1="353.15" x2="931.0999999999999" y2="353.15"/>
<line x1="64.9" y1="335.56" x2="69.5" y2="335.56"/>
<line x1="926.5" y1="335.56" x2="931.0999999999999" y2="335.56"/>
<line x1="64.9" y1="317.96" x2="69.5" y2="317.96"/>
<line x1="926.5" y1="317.96" x2="931.0999999999999" y2="317.96"/>
<line x1="62.7" y1="300.37" x2="71.7" y2="300.37"/>
<line x1="924.3" y1="300.37" x2="933.3" y2="300.37"/>
<line x1="64.9" y1="282.78" x2="69.5" y2="282.78"/>
<line x1="926.5" y1="282.78" x2="931.0999999999999" y2="282.78"/>
<line x1="64.9" y1="265.18" x2="69.5" y2="265.18"/>
<line x1="926.5" y1="265.18" x2="931.0999999999999" y2="265.18"/>
<line x1="64.9" y1="247.59" x2="69.5" y2="247.59"/>
<line x1="926.5" y1="247.59" x2="931.0999999999999" y2="247.59"/>
<line x1="64.9" y1="230.00" x2="69.5" y2="230.00"/>
<line x1="926.5" y1="230.00" x2="931.0999999999999" y2="230.00"/>
<line x1="62.7" y1="212.40" x2="71.7" y2="212.40"/>
<line x1="924.3" y1="212.40" x2="933.3" y2="212.40"/>
<line x1="64.9" y1="194.81" x2="69.5" y2="194.81"/>
<line x1="926.5" y1="194.81" x2="931.0999999999999" y2="194.81"/>
<line x1="64.9" y1="177.22" x2="69.5" y2="177.22"/>
<line x1="926.5" y1="177.22" x2="931.0999999999999" y2="177.22"/>
<line x1="64.9" y1="159.63" x2="69.5" y2="159.63"/>
<line x1="926.5" y1="159.63" x2="931.0999999999999" y2="159.63"/>
<line x1="64.9" y1="142.03" x2="69.5" y2="142.03"/>
<line x1="926.5" y1="142.03" x2="931.0999999999999" y2="142.03"/>
<line x1="62.7" y1="124.44" x2="71.7" y2="124.44"/>
<line x1="924.3" y1="124.44" x2="933.3" y2="124.44"/>
<line x1="64.9" y1="106.85" x2="69.5" y2="106.85"/>
<line x1="926.5" y1="106.85" x2="931.0999999999999" y2="106.85"/>
<line x1="64.9" y1="89.25" x2="69.5" y2="89.25"/>
<line x1="926.5" y1="89.25" x2="931.0999999999999" y2="89.25"/>
<line x1="64.9" y1="71.66" x2="69.5" y2="71.66"/>
<line x1="926.5" y1="71.66" x2="931.0999999999999" y2="71.66"/>
<line x1="64.9" y1="54.07" x2="69.5" y2="54.07"/>
<line x1="926.5" y1="54.07" x2="931.0999999999999" y2="54.07"/>
<line x1="62.7" y1="36.47" x2="71.7" y2="36.47"/>
<line x1="924.3" y1="36.47" x2="933.3" y2="36.47"/>
<line x1="75.05" y1="36.5" x2="75.05" y2="39.7"/>
<line x1="75.05" y1="474.0" x2="75.05" y2="478.6"/>
<line x1="110.53" y1="36.5" x2="110.53" y2="39.7"/>
<line x1="110.53" y1="474.0" x2="110.53" y2="478.6"/>
<line x1="146.00" y1="36.5" x2="146.00" y2="41.0"/>
<line x1="146.00" y1="471.8" x2="146.00" y2="480.8"/>
<line x1="181.47" y1="36.5" x2="181.47" y2="39.7"/>
<line x1="181.47" y1="474.0" x2="181.47" y2="478.6"/>
<line x1="216.95" y1="36.5" x2="216.95" y2="39.7"/>
<line x1="216.95" y1="474.0" x2="216.95" y2="478.6"/>
<line x1="252.43" y1="36.5" x2="252.43" y2="39.7"/>
<line x1="252.43" y1="474.0" x2="252.43" y2="478.6"/>
<line x1="287.90" y1="36.5" x2="287.90" y2="39.7"/>
<line x1="287.90" y1="474.0" x2="287.90" y2="478.6"/>
<line x1="323.38" y1="36.5" x2="323.38" y2="41.0"/>
<line x1="323.38" y1="471.8" x2="323.38" y2="480.8"/>
<line x1="358.85" y1="36.5" x2="358.85" y2="39.7"/>
<line x1="358.85" y1="474.0" x2="358.85" y2="478.6"/>
<line x1="394.33" y1="36.5" x2="394.33" y2="39.7"/>
<line x1="394.33" y1="474.0" x2="394.33" y2="478.6"/>
<line x1="429.80" y1="36.5" x2="429.80" y2="39.7"/>
<line x1="429.80" y1="474.0" x2="429.80" y2="478.6"/>
<line x1="465.28" y1="36.5" x2="465.28" y2="39.7"/>
<line x1="465.28" y1="474.0" x2="465.28" y2="478.6"/>
<line x1="500.75" y1="36.5" x2="500.75" y2="41.0"/>
<line x1="500.75" y1="471.8" x2="500.75" y2="480.8"/>
<line x1="536.23" y1="36.5" x2="536.23" y2="39.7"/>
<line x1="536.23" y1="474.0" x2="536.23" y2="478.6"/>
<line x1="571.70" y1="36.5" x2="571.70" y2="39.7"/>
<line x1="571.70" y1="474.0" x2="571.70" y2="478.6"/>
<line x1="607.17" y1="36.5" x2="607.17" y2="39.7"/>
<line x1="607.17" y1="474.0" x2="607.17" y2="478.6"/>
<line x1="642.65" y1="36.5" x2="642.65" y2="39.7"/>
<line x1="642.65" y1="474.0" x2="642.65" y2="478.6"/>
<line x1="678.12" y1="36.5" x2="678.12" y2="41.0"/>
<line x1="678.12" y1="471.8" x2="678.12" y2="480.8"/>
<line x1="713.60" y1="36.5" x2="713.60" y2="39.7"/>
<line x1="713.60" y1="474.0" x2="713.60" y2="478.6"/>
<line x1="749.08" y1="36.5" x2="749.08" y2="39.7"/>
<line x1="749.08" y1="474.0" x2="749.08" y2="478.6"/>
<line x1="784.55" y1="36.5" x2="784.55" y2="39.7"/>
<line x1="784.55" y1="474.0" x2="784.55" y2="478.6"/>
<line x1="820.02" y1="36.5" x2="820.02" y2="39.7"/>
<line x1="820.02" y1="474.0" x2="820.02" y2="478.6"/>
<line x1="855.50" y1="36.5" x2="855.50" y2="41.0"/>
<line x1="855.50" y1="471.8" x2="855.50" y2="480.8"/>
<line x1="890.98" y1="36.5" x2="890.98" y2="39.7"/>
<line x1="890.98" y1="474.0" x2="890.98" y2="478.6"/>
<line x1="926.45" y1="36.5" x2="926.45" y2="39.7"/>
<line x1="926.45" y1="474.0" x2="926.45" y2="478.6"/>
</g>
<g stroke="#3c3c3c" stroke-width="1.2" fill="none">
<line x1="61.8" y1="485.5" x2="928.8" y2="485.5"/>
<line x1="61.8" y1="674.7" x2="933.8" y2="674.7"/>
<line x1="66.3" y1="485.5" x2="66.3" y2="674.7"/>
<line x1="928.8" y1="485.5" x2="928.8" y2="674.7" stroke="#555"/>
<line x1="61.8" y1="674.70" x2="70.8" y2="674.70"/>
<line x1="61.8" y1="655.74" x2="70.8" y2="655.74"/>
<line x1="61.8" y1="636.78" x2="70.8" y2="636.78"/>
<line x1="61.8" y1="617.82" x2="70.8" y2="617.82"/>
<line x1="61.8" y1="598.86" x2="70.8" y2="598.86"/>
<line x1="61.8" y1="579.90" x2="70.8" y2="579.90"/>
<line x1="61.8" y1="560.94" x2="70.8" y2="560.94"/>
<line x1="61.8" y1="541.98" x2="70.8" y2="541.98"/>
<line x1="61.8" y1="523.02" x2="70.8" y2="523.02"/>
<line x1="61.8" y1="504.06" x2="70.8" y2="504.06"/>
<line x1="74.25" y1="485.5" x2="74.25" y2="487.8"/>
<line x1="74.25" y1="672.4000000000001" x2="74.25" y2="677.0"/>
<line x1="109.73" y1="485.5" x2="109.73" y2="487.8"/>
<line x1="109.73" y1="672.4000000000001" x2="109.73" y2="677.0"/>
<line x1="145.20" y1="485.5" x2="145.20" y2="490.0"/>
<line x1="145.20" y1="670.2" x2="145.20" y2="679.2"/>
<line x1="180.67" y1="485.5" x2="180.67" y2="487.8"/>
<line x1="180.67" y1="672.4000000000001" x2="180.67" y2="677.0"/>
<line x1="216.15" y1="485.5" x2="216.15" y2="487.8"/>
<line x1="216.15" y1="672.4000000000001" x2="216.15" y2="677.0"/>
<line x1="251.62" y1="485.5" x2="251.62" y2="487.8"/>
<line x1="251.62" y1="672.4000000000001" x2="251.62" y2="677.0"/>
<line x1="287.10" y1="485.5" x2="287.10" y2="487.8"/>
<line x1="287.10" y1="672.4000000000001" x2="287.10" y2="677.0"/>
<line x1="322.57" y1="485.5" x2="322.57" y2="490.0"/>
<line x1="322.57" y1="670.2" x2="322.57" y2="679.2"/>
<line x1="358.05" y1="485.5" x2="358.05" y2="487.8"/>
<line x1="358.05" y1="672.4000000000001" x2="358.05" y2="677.0"/>
<line x1="393.53" y1="485.5" x2="393.53" y2="487.8"/>
<line x1="393.53" y1="672.4000000000001" x2="393.53" y2="677.0"/>
<line x1="429.00" y1="485.5" x2="429.00" y2="487.8"/>
<line x1="429.00" y1="672.4000000000001" x2="429.00" y2="677.0"/>
<line x1="464.48" y1="485.5" x2="464.48" y2="487.8"/>
<line x1="464.48" y1="672.4000000000001" x2="464.48" y2="677.0"/>
<line x1="499.95" y1="485.5" x2="499.95" y2="490.0"/>
<line x1="499.95" y1="670.2" x2="499.95" y2="679.2"/>
<line x1="535.43" y1="485.5" x2="535.43" y2="487.8"/>
<line x1="535.43" y1="672.4000000000001" x2="535.43" y2="677.0"/>
<line x1="570.90" y1="485.5" x2="570.90" y2="487.8"/>
<line x1="570.90" y1="672.4000000000001" x2="570.90" y2="677.0"/>
<line x1="606.38" y1="485.5" x2="606.38" y2="487.8"/>
<line x1="606.38" y1="672.4000000000001" x2="606.38" y2="677.0"/>
<line x1="641.85" y1="485.5" x2="641.85" y2="487.8"/>
<line x1="641.85" y1="672.4000000000001" x2="641.85" y2="677.0"/>
<line x1="677.33" y1="485.5" x2="677.33" y2="490.0"/>
<line x1="677.33" y1="670.2" x2="677.33" y2="679.2"/>
<line x1="712.80" y1="485.5" x2="712.80" y2="487.8"/>
<line x1="712.80" y1="672.4000000000001" x2="712.80" y2="677.0"/>
<line x1="748.28" y1="485.5" x2="748.28" y2="487.8"/>
<line x1="748.28" y1="672.4000000000001" x2="748.28" y2="677.0"/>
<line x1="783.75" y1="485.5" x2="783.75" y2="487.8"/>
<line x1="783.75" y1="672.4000000000001" x2="783.75" y2="677.0"/>
<line x1="819.23" y1="485.5" x2="819.23" y2="487.8"/>
<line x1="819.23" y1="672.4000000000001" x2="819.23" y2="677.0"/>
<line x1="854.70" y1="485.5" x2="854.70" y2="490.0"/>
<line x1="854.70" y1="670.2" x2="854.70" y2="679.2"/>
<line x1="890.18" y1="485.5" x2="890.18" y2="487.8"/>
<line x1="890.18" y1="672.4000000000001" x2="890.18" y2="677.0"/>
<line x1="925.65" y1="485.5" x2="925.65" y2="487.8"/>
<line x1="925.65" y1="672.4000000000001" x2="925.65" y2="677.0"/>
</g>
<rect x="573.5" y="398.5" width="355.3" height="78" fill="#fff" stroke="#777" stroke-width="1"/>
<line x1="580" y1="410.4" x2="632" y2="410.4" stroke="#dc3c1e" stroke-width="2.2"/>
<text x="646" y="407.7" textLength="261.5" lengthAdjust="spacing" style="font-family:'Liberation Sans',sans-serif;font-size:10px" fill="#111" stroke="#111" stroke-width="0.2">log.2012.08.06-02a.csv Gear:3 Wt:2410 Tire:23.07</text>
<text x="646" y="420.3" textLength="274.5" lengthAdjust="spacing" style="font-family:'Liberation Sans',sans-serif;font-size:10px" fill="#111" stroke="#111" stroke-width="0.2">(199hp@6362rpm) (174lbft@5392rpm) Smoothing:4</text>
<line x1="580" y1="436.3" x2="632" y2="436.3" stroke="#1e5ab4" stroke-width="2.2"/>
<text x="646" y="433.3" textLength="261.5" lengthAdjust="spacing" style="font-family:'Liberation Sans',sans-serif;font-size:10px" fill="#111" stroke="#111" stroke-width="0.2">log.2012.08.06-02b.csv Gear:3 Wt:2410 Tire:23.07</text>
<text x="646" y="445.9" textLength="274.5" lengthAdjust="spacing" style="font-family:'Liberation Sans',sans-serif;font-size:10px" fill="#111" stroke="#111" stroke-width="0.2">(199hp@6276rpm) (177lbft@5479rpm) Smoothing:4</text>
<line x1="580" y1="462.2" x2="632" y2="462.2" stroke="#14871e" stroke-width="2.2"/>
<text x="646" y="458.9" textLength="261.5" lengthAdjust="spacing" style="font-family:'Liberation Sans',sans-serif;font-size:10px" fill="#111" stroke="#111" stroke-width="0.2">log.2012.08.06-02c.csv Gear:3 Wt:2410 Tire:23.07</text>
<text x="646" y="471.5" textLength="274.5" lengthAdjust="spacing" style="font-family:'Liberation Sans',sans-serif;font-size:10px" fill="#111" stroke="#111" stroke-width="0.2">(208hp@6715rpm) (182lbft@5342rpm) Smoothing:4</text>
<line x1="67.2" y1="476.3" x2="928.8" y2="476.3" stroke="#3c3c3c" stroke-width="1.2"/>
<line x1="928.8" y1="36.5" x2="928.8" y2="476.3" stroke="#3c3c3c" stroke-width="1.2"/>
<text x="44.1" y="391.8" text-anchor="middle" style="font-family:'Liberation Sans',sans-serif;font-size:12px;letter-spacing:1.3px" fill="#111" stroke="#111" stroke-width="0.2">50</text>
<text x="951.6" y="391.8" text-anchor="middle" style="font-family:'Liberation Sans',sans-serif;font-size:12px;letter-spacing:1.3px" fill="#111" stroke="#111" stroke-width="0.2">50</text>
<text x="44.1" y="303.9" text-anchor="middle" style="font-family:'Liberation Sans',sans-serif;font-size:12px;letter-spacing:1.3px" fill="#111" stroke="#111" stroke-width="0.2">100</text>
<text x="951.6" y="303.9" text-anchor="middle" style="font-family:'Liberation Sans',sans-serif;font-size:12px;letter-spacing:1.3px" fill="#111" stroke="#111" stroke-width="0.2">100</text>
<text x="44.1" y="215.9" text-anchor="middle" style="font-family:'Liberation Sans',sans-serif;font-size:12px;letter-spacing:1.3px" fill="#111" stroke="#111" stroke-width="0.2">150</text>
<text x="951.6" y="215.9" text-anchor="middle" style="font-family:'Liberation Sans',sans-serif;font-size:12px;letter-spacing:1.3px" fill="#111" stroke="#111" stroke-width="0.2">150</text>
<text x="44.1" y="127.9" text-anchor="middle" style="font-family:'Liberation Sans',sans-serif;font-size:12px;letter-spacing:1.3px" fill="#111" stroke="#111" stroke-width="0.2">200</text>
<text x="951.6" y="127.9" text-anchor="middle" style="font-family:'Liberation Sans',sans-serif;font-size:12px;letter-spacing:1.3px" fill="#111" stroke="#111" stroke-width="0.2">200</text>
<text x="44.1" y="40.0" text-anchor="middle" style="font-family:'Liberation Sans',sans-serif;font-size:12px;letter-spacing:1.3px" fill="#111" stroke="#111" stroke-width="0.2">250</text>
<text x="951.6" y="40.0" text-anchor="middle" style="font-family:'Liberation Sans',sans-serif;font-size:12px;letter-spacing:1.3px" fill="#111" stroke="#111" stroke-width="0.2">250</text>
<text x="47.2" y="678.2" text-anchor="middle" style="font-family:'Liberation Sans',sans-serif;font-size:12px;letter-spacing:1.3px" fill="#111" stroke="#111" stroke-width="0.2">9</text>
<text x="47.2" y="659.2" text-anchor="middle" style="font-family:'Liberation Sans',sans-serif;font-size:12px;letter-spacing:1.3px" fill="#111" stroke="#111" stroke-width="0.2">10</text>
<text x="47.2" y="640.3" text-anchor="middle" style="font-family:'Liberation Sans',sans-serif;font-size:12px;letter-spacing:1.3px" fill="#111" stroke="#111" stroke-width="0.2">11</text>
<text x="47.2" y="621.3" text-anchor="middle" style="font-family:'Liberation Sans',sans-serif;font-size:12px;letter-spacing:1.3px" fill="#111" stroke="#111" stroke-width="0.2">12</text>
<text x="47.2" y="602.4" text-anchor="middle" style="font-family:'Liberation Sans',sans-serif;font-size:12px;letter-spacing:1.3px" fill="#111" stroke="#111" stroke-width="0.2">13</text>
<text x="47.2" y="583.4" text-anchor="middle" style="font-family:'Liberation Sans',sans-serif;font-size:12px;letter-spacing:1.3px" fill="#111" stroke="#111" stroke-width="0.2">14</text>
<text x="47.2" y="564.4" text-anchor="middle" style="font-family:'Liberation Sans',sans-serif;font-size:12px;letter-spacing:1.3px" fill="#111" stroke="#111" stroke-width="0.2">15</text>
<text x="47.2" y="545.5" text-anchor="middle" style="font-family:'Liberation Sans',sans-serif;font-size:12px;letter-spacing:1.3px" fill="#111" stroke="#111" stroke-width="0.2">16</text>
<text x="47.2" y="526.5" text-anchor="middle" style="font-family:'Liberation Sans',sans-serif;font-size:12px;letter-spacing:1.3px" fill="#111" stroke="#111" stroke-width="0.2">17</text>
<text x="47.2" y="507.6" text-anchor="middle" style="font-family:'Liberation Sans',sans-serif;font-size:12px;letter-spacing:1.3px" fill="#111" stroke="#111" stroke-width="0.2">18</text>
<text x="940" y="678.2" style="font-family:'Liberation Sans',sans-serif;font-size:12px;letter-spacing:1.3px" fill="#111" stroke="#111" stroke-width="0.2">0</text>
<text x="145.3" y="695.8" text-anchor="middle" style="font-family:'Liberation Sans',sans-serif;font-size:12px;letter-spacing:1.3px" fill="#111" stroke="#111" stroke-width="0.2">3000</text>
<text x="322.7" y="695.8" text-anchor="middle" style="font-family:'Liberation Sans',sans-serif;font-size:12px;letter-spacing:1.3px" fill="#111" stroke="#111" stroke-width="0.2">4000</text>
<text x="500.1" y="695.8" text-anchor="middle" style="font-family:'Liberation Sans',sans-serif;font-size:12px;letter-spacing:1.3px" fill="#111" stroke="#111" stroke-width="0.2">5000</text>
<text x="677.4" y="695.8" text-anchor="middle" style="font-family:'Liberation Sans',sans-serif;font-size:12px;letter-spacing:1.3px" fill="#111" stroke="#111" stroke-width="0.2">6000</text>
<text x="854.8" y="695.8" text-anchor="middle" style="font-family:'Liberation Sans',sans-serif;font-size:12px;letter-spacing:1.3px" fill="#111" stroke="#111" stroke-width="0.2">7000</text>
<text x="497" y="21.7" text-anchor="middle" style="font-family:'Liberation Sans',sans-serif;font-size:15px;letter-spacing:0.8px" stroke="#111" stroke-width="0.45" fill="#111">DynoJet</text>
<text x="74" y="50" style="font-family:'Liberation Sans',sans-serif;font-size:10px;font-weight:bold;font-style:italic;letter-spacing:0.23px" fill="#8c8c8c">Generated by Virtual Dyno 1.1.9</text>
<text x="497" y="714.8" text-anchor="middle" style="font-family:'Liberation Sans',sans-serif;font-size:11.5px;letter-spacing:0.6px" fill="#111" stroke="#111" stroke-width="0.2">Engine Speed (RPM)</text>
<text transform="translate(19.8,255.6) rotate(-90)" text-anchor="middle" style="font-family:'Liberation Sans',sans-serif;font-size:12px;letter-spacing:1.4px" fill="#111" stroke="#111" stroke-width="0.2">Torque (ft-lbs)</text>
<text transform="translate(980,255.7) rotate(-90)" text-anchor="middle" style="font-family:'Liberation Sans',sans-serif;font-size:12px;letter-spacing:0.6px" fill="#111" stroke="#111" stroke-width="0.05">Power (WHP)</text>
<text transform="translate(26.5,579.2) rotate(-90)" text-anchor="middle" style="font-family:'Liberation Sans',sans-serif;font-size:12px;letter-spacing:1.4px" fill="#111" stroke="#111" stroke-width="0.2">Air / Fuel</text>
<text transform="translate(964.5,580) rotate(-90)" text-anchor="middle" style="font-family:'Liberation Sans',sans-serif;font-size:11.5px;letter-spacing:0.7px" fill="#111" stroke="#111" stroke-width="0.05">BOOST</text>
</svg>
</body></html>
